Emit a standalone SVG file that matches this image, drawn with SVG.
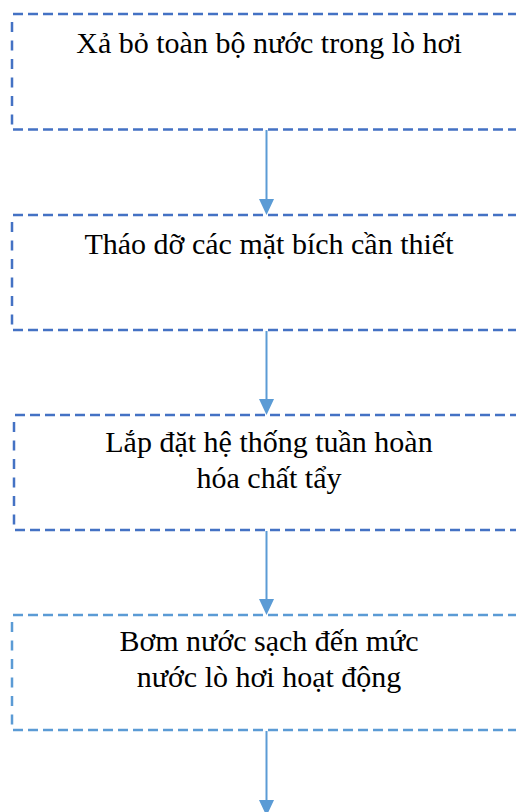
<svg xmlns="http://www.w3.org/2000/svg" width="516" height="812" viewBox="0 0 516 812">
<style>
.h{fill:none;stroke-width:2.5;stroke-dasharray:10 5}
.v{fill:none;stroke-width:2.5;stroke-dasharray:10 8.5}
.dk{stroke:#4472C4}
.lt{stroke:#5B9BD5}
.t{font-family:"Liberation Serif","Times New Roman",serif;font-size:30px;fill:#000;text-anchor:middle}
.c{stroke:#5B9BD5;stroke-width:2;fill:none}
.ah{fill:#5B9BD5}
</style>
<rect width="516" height="812" fill="#fff"/>
<g id="node1">
<path class="h dk" d="M13 14 H526 M13 129.5 H526"/>
<path class="v dk" d="M12 22 V129"/>
<text class="t" x="269" y="53">Xả bỏ toàn bộ nước trong lò hơi</text>
</g>
<g id="node2">
<path class="h dk" d="M13 215 H526 M13 330 H526"/>
<path class="v dk" d="M12 222 V330"/>
<text class="t" x="269" y="254">Tháo dỡ các mặt bích cần thiết</text>
</g>
<g id="node3">
<path class="h dk" d="M15 415 H526 M15 530 H526"/>
<path class="v dk" d="M14 422 V530"/>
<text class="t" x="269" y="452">Lắp đặt hệ thống tuần hoàn</text>
<text class="t" x="269" y="488">hóa chất tẩy</text>
</g>
<g id="node4">
<path class="h lt" d="M13 615 H526 M13 730 H526"/>
<path class="v lt" d="M12 622 V730"/>
<text class="t" x="269" y="651">Bơm nước sạch đến mức</text>
<text class="t" x="269" y="687">nước lò hơi hoạt động</text>
</g>
<g id="connectors">
<line class="c" x1="266.5" y1="130" x2="266.5" y2="200"/>
<polygon class="ah" points="259,199 274,199 266.5,215"/>
<line class="c" x1="266.5" y1="331" x2="266.5" y2="400"/>
<polygon class="ah" points="259,399 274,399 266.5,415"/>
<line class="c" x1="266.5" y1="531" x2="266.5" y2="600"/>
<polygon class="ah" points="259,599 274,599 266.5,615"/>
<line class="c" x1="266.5" y1="731" x2="266.5" y2="801"/>
<polygon class="ah" points="259,800 274,800 266.5,816"/>
</g>
</svg>
